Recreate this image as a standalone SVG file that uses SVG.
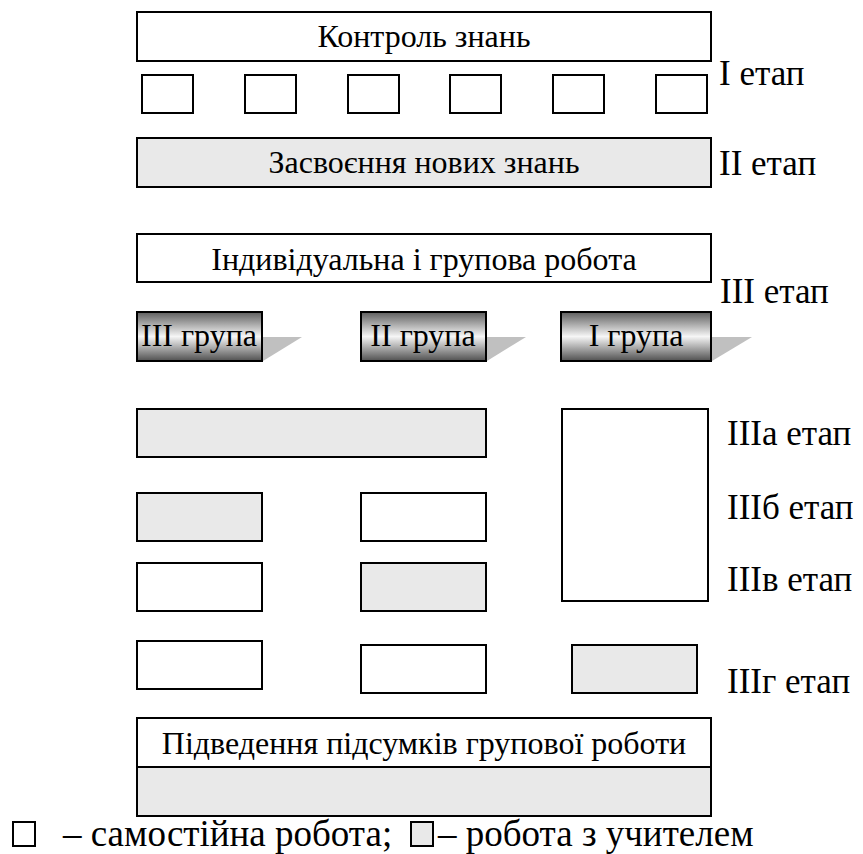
<svg xmlns="http://www.w3.org/2000/svg" width="863" height="854" viewBox="0 0 863 854">
<style>
.b{fill:#fff;stroke:#000;stroke-width:2}
.g{fill:#e9e9e9;stroke:#000;stroke-width:2}
.t{font-size:32px;fill:#000;text-anchor:middle}
.l{font-size:35px;fill:#000}
.lg{font-size:37px;fill:#000}
.btn{fill:url(#metal);stroke:#000;stroke-width:2}
.sh{fill:#c0c0c0}
</style>
<defs>
<linearGradient id="metal" x1="0" y1="0" x2="0" y2="1">
<stop offset="0" stop-color="#5e5e5e"/>
<stop offset="0.5" stop-color="#f6f6f6"/>
<stop offset="1" stop-color="#505050"/>
</linearGradient>
</defs>
<g font-family="Liberation Serif, Times New Roman, serif">
<g id="control">
<rect class="b" x="137" y="12" width="574" height="49"/>
<text class="t" x="424" y="47">Контроль знань</text>
</g>
<g id="stage1-squares">
<rect class="b" x="142" y="75" width="51" height="38"/>
<rect class="b" x="245" y="75" width="51" height="38"/>
<rect class="b" x="348" y="75" width="51" height="38"/>
<rect class="b" x="450" y="75" width="51" height="38"/>
<rect class="b" x="553" y="75" width="51" height="38"/>
<rect class="b" x="656" y="75" width="51" height="38"/>
</g>
<g id="new-knowledge">
<rect class="g" x="137" y="138" width="574" height="49"/>
<text class="t" x="424" y="173">Засвоєння нових знань</text>
</g>
<g id="individual">
<rect class="b" x="137" y="234" width="574" height="48"/>
<text class="t" x="424" y="270">Індивідуальна і групова робота</text>
</g>
<g id="group3">
<polygon class="sh" points="262,337 302,337 263,361 262,361"/>
<rect class="btn" x="137" y="312" width="125" height="49"/>
<text class="t" x="199" y="346">III група</text>
</g>
<g id="group2">
<polygon class="sh" points="486,337 526,337 487,361 486,361"/>
<rect class="btn" x="361" y="312" width="125" height="49"/>
<text class="t" x="423" y="346">II група</text>
</g>
<g id="group1">
<polygon class="sh" points="711,337 752,337 712,361 711,361"/>
<rect class="btn" x="561" y="312" width="150" height="49"/>
<text class="t" x="636" y="346">I група</text>
</g>
<g id="stage3a">
<rect class="g" x="137" y="409" width="349" height="48"/>
<rect class="b" x="562" y="409" width="146" height="192"/>
</g>
<g id="stage3b">
<rect class="g" x="137" y="493" width="125" height="48"/>
<rect class="b" x="361" y="493" width="125" height="48"/>
</g>
<g id="stage3c">
<rect class="b" x="137" y="563" width="125" height="48"/>
<rect class="g" x="361" y="563" width="125" height="48"/>
</g>
<g id="stage3d">
<rect class="b" x="137" y="641" width="125" height="48"/>
<rect class="b" x="361" y="645" width="125" height="48"/>
<rect class="g" x="572" y="645" width="125" height="48"/>
</g>
<g id="summary">
<rect class="b" x="137" y="718" width="574" height="49"/>
<text class="t" x="424" y="754">Підведення підсумків групової роботи</text>
<rect class="g" x="137" y="767" width="574" height="49"/>
</g>
<g id="labels">
<text class="l" x="719" y="85">I етап</text>
<text class="l" x="719" y="175">II етап</text>
<text class="l" x="720" y="303">III етап</text>
<text class="l" x="727" y="445">IIIа етап</text>
<text class="l" x="727" y="519">IIIб етап</text>
<text class="l" x="727" y="591">IIIв етап</text>
<text class="l" x="727" y="693">IIIг етап</text>
</g>
<g id="legend">
<rect class="b" x="13" y="822" width="22" height="24"/>
<text class="lg" x="63" y="846">– самостійна робота;</text>
<rect class="g" x="411" y="822" width="22" height="24"/>
<text class="lg" x="438" y="846">– робота з учителем</text>
</g>
</g>
<g id="connectors"/>
</svg>
